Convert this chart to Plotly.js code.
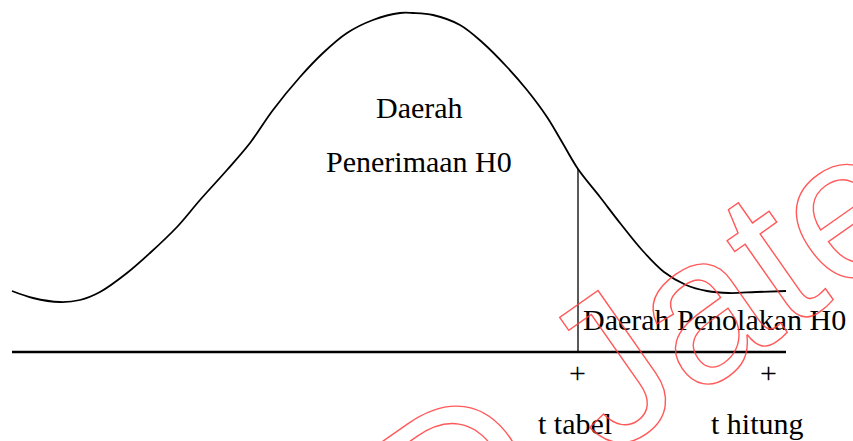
<!DOCTYPE html>
<html>
<head>
<meta charset="utf-8">
<script src="https://cdn.plot.ly/plotly-3.0.1.min.js"></script>
<style>
  html, body { margin: 0; padding: 0; background: #fff; }
  #chart { width: 853px; height: 441px; }
</style>
</head>
<body>
<div id="chart"></div>
<script>
// Distribution curve sketched above the t axis (height measured from the axis line)
const curveX = [12, 33, 60, 80, 100, 127, 150, 177, 200, 227, 250, 273, 300, 323, 347, 373, 400, 413, 433, 460, 483, 507, 527, 547, 562, 578, 600, 620, 642, 664, 686, 707, 729, 756, 786];
const curveY = [61, 54, 50, 52, 60, 79, 99, 125, 152, 182, 209, 242, 275, 299, 319, 332, 339, 339, 337, 327, 309, 285, 262, 235, 210, 183, 155, 129, 102, 80, 67, 61, 59, 60, 61];

// Axis extent and the two marked t positions
const axisX = [12, 786];
const tTabel = 578;
const tTabelHeight = 183;
const tHitung = 768;
const tickLabels = ["t tabel", "t hitung"];

const regionAccept = ["Daerah", "Penerimaan H0"];
const regionReject = "Daerah Penolakan H0";
const stamp = "DPRD Jateng";

const serif = "Liberation Serif";
const sans = "Liberation Sans";

const traces = [
  {
    x: curveX, y: curveY, mode: "lines", type: "scatter",
    line: { color: "#000", width: 1.8, shape: "spline", smoothing: 1 },
    hoverinfo: "skip"
  },
  {
    x: axisX, y: [0, 0], mode: "lines", type: "scatter",
    line: { color: "#000", width: 2.6 },
    hoverinfo: "skip"
  },
  {
    x: [tTabel, tTabel], y: [0, tTabelHeight], mode: "lines", type: "scatter",
    line: { color: "#000", width: 1.3 },
    hoverinfo: "skip"
  }
];

const annotations = [
  { x: 419, y: 245, text: regionAccept[0], font: { family: serif, size: 30, color: "#000" } },
  { x: 419, y: 191, text: regionAccept[1], font: { family: serif, size: 30, color: "#000" } },
  { x: 581, y: 33, xanchor: "left", text: regionReject, font: { family: serif, size: 30, color: "#000" } },
  { x: tTabel - 1, y: -20, text: "+", font: { family: serif, size: 30, color: "#000" } },
  { x: tHitung, y: -20, text: "+", font: { family: serif, size: 30, color: "#000" } },
  { x: 575, y: -71, text: tickLabels[0], font: { family: serif, size: 30, color: "#000" } },
  { x: 757, y: -71, text: tickLabels[1], font: { family: serif, size: 30, color: "#000" } },
  { x: 557, y: -54, text: stamp, textangle: -35,
    font: { family: sans, size: 208, color: "#ff4040" } }
].map(a => Object.assign({ xref: "x", yref: "y", showarrow: false }, a));

const layout = {
  width: 853, height: 441,
  margin: { l: 0, r: 0, t: 0, b: 0 },
  paper_bgcolor: "#fff", plot_bgcolor: "#fff",
  font: { family: serif },
  showlegend: false,
  xaxis: { range: [0, 853], visible: false, fixedrange: true },
  yaxis: { range: [-89, 352], visible: false, fixedrange: true },
  annotations: annotations
};

Plotly.newPlot("chart", traces, layout, { staticPlot: true, displayModeBar: false }).then(() => {
  // outline-only lettering for the stamp
  const items = document.querySelectorAll(".annotation");
  const last = items[items.length - 1];
  last.querySelectorAll("text").forEach(t => {
    t.style.fill = "none";
    t.style.stroke = "rgba(255,60,60,0.85)";
    t.style.strokeWidth = "1.4px";
  });
});
</script>
</body>
</html>
